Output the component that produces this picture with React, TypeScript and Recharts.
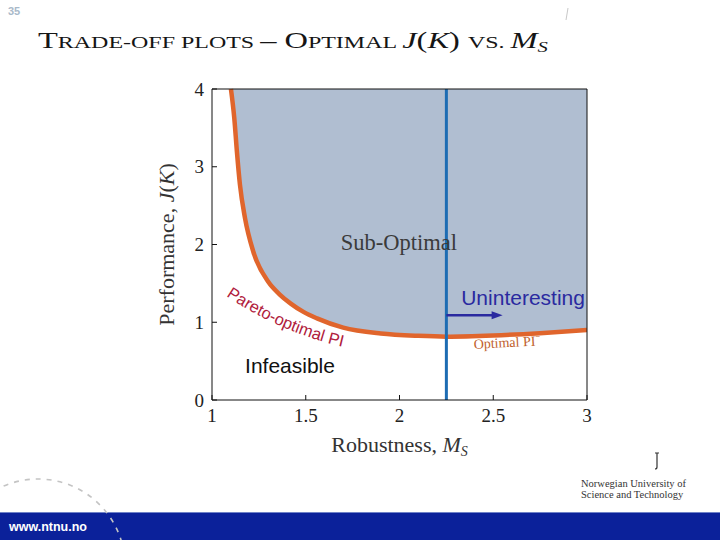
import { ComposedChart, Area, Line, XAxis, YAxis, ReferenceLine, ReferenceDot, Label } from "recharts"

// Pareto front: robustness M_S vs optimal J(K)
const msValues = [1.101, 1.119, 1.133, 1.149, 1.176, 1.22, 1.3, 1.36, 1.42, 1.49, 1.56, 1.7, 1.9, 2.1, 2.25, 2.5, 2.75, 3.0]
const jValues = [4.0, 3.62, 3.19, 2.77, 2.34, 1.91, 1.52, 1.36, 1.24, 1.13, 1.05, 0.93, 0.855, 0.825, 0.815, 0.83, 0.86, 0.9]

const xTicks = [1, 1.5, 2, 2.5, 3]
const yTicks = [0, 1, 2, 3, 4]
const J_MAX = 4
const MS_LIMIT = 2.25

// arrow pointing into the "uninteresting" region
const arrowJ = 1.09
const arrowEndMs = 2.55

// curved "Pareto-optimal PI" label runs between these two points
const paretoLabel = "Pareto-optimal PI"
const paretoFrom = { x: 1.075, y: 1.338 }
const paretoTo = { x: 1.74, y: 0.66 }

// annotation anchors in data units
const noteKeys = ["sub", "unint", "infeas", "optpi"]
const noteText = ["Sub-Optimal", "Uninteresting", "Infeasible", "Optimal PI"]
const noteMs = [1.997, 2.659, 1.416, 2.575]
const noteJ = [1.929, 1.222, 0.347, 0.68]

const SERIF = "'Liberation Serif', 'DejaVu Serif', serif"
const SANS = "'Liberation Sans', Arial, sans-serif"

const noteStyle: Record<string, any> = {
  sub: { fontFamily: SERIF, fontSize: 22.5, fill: "#3a3a3a" },
  unint: { fontFamily: SANS, fontSize: 21, fill: "#2a2aa0" },
  infeas: { fontFamily: SANS, fontSize: 21, fill: "#111" },
  optpi: { fontFamily: SERIF, fontSize: 14, fill: "#c0602c", rotate: -3 },
}

const rows = msValues.map((ms, i) => ({ ms, j: jValues[i], band: [jValues[i], J_MAX] }))

const tickStyle = { fontFamily: SERIF, fontSize: 19, fill: "#222" }

const Arrow = (p: any) => {
  const { x1, y1, x2, y2 } = p
  return (
    <g>
      <line x1={x1} y1={y1} x2={x2 - 8} y2={y2} stroke="#2a2aa0" strokeWidth={2.5} />
      <polygon points={`${x2},${y2} ${x2 - 11},${y2 - 4} ${x2 - 11},${y2 + 4}`} fill="#2a2aa0" />
    </g>
  )
}

const ParetoText = (p: any) => {
  const { x1, y1, x2, y2 } = p
  const dx = x2 - x1
  const dy = y2 - y1
  const len = Math.hypot(dx, dy) || 1
  const sag = 13
  const cx = (x1 + x2) / 2 - (dy / len) * sag
  const cy = (y1 + y2) / 2 + (dx / len) * sag
  return (
    <g>
      <path id="pareto-path" d={`M${x1},${y1} Q${cx},${cy} ${x2},${y2}`} fill="none" stroke="none" />
      <text fontFamily={SANS} fontSize={16.5} fill="#b0203c">
        <textPath href="#pareto-path">{paretoLabel}</textPath>
      </text>
    </g>
  )
}

const noteShape = (key: string, text: string) => (p: any) => {
  const s = noteStyle[key]
  const { cx, cy } = p
  return (
    <text
      x={cx}
      y={cy}
      textAnchor="middle"
      fontFamily={s.fontFamily}
      fontSize={s.fontSize}
      fill={s.fill}
      transform={s.rotate ? `rotate(${s.rotate} ${cx} ${cy})` : undefined}
    >
      {text}
      {key === "optpi" && (
        <tspan fontSize={9} dy={-6}>
          −
        </tspan>
      )}
    </text>
  )
}

function Slide() {
  const big = 23.7
  const small = 17.5
  return (
    <svg width={720} height={540} style={{ position: "absolute", left: 0, top: 0 }}>
      <text x={8} y={15} fontFamily={SANS} fontWeight="bold" fontSize={11} fill="#a9b9c9">
        35
      </text>
      <line x1={568} y1={8} x2={566} y2={20} stroke="#c8c8c8" strokeWidth={1} />
      {/* small-caps title, stretched to the width of the original wide face */}
      <text transform="translate(38 48) scale(1.37 1)" fontFamily={SERIF} fill="#151515">
        <tspan fontSize={big}>T</tspan>
        <tspan fontSize={small}>RADE-OFF PLOTS </tspan>
        <tspan fontSize={big}>– O</tspan>
        <tspan fontSize={small}>PTIMAL </tspan>
        <tspan fontSize={big} fontStyle="italic">J</tspan>
        <tspan fontSize={big}>(</tspan>
        <tspan fontSize={big} fontStyle="italic">K</tspan>
        <tspan fontSize={big}>) </tspan>
        <tspan fontSize={small}>VS. </tspan>
        <tspan fontSize={big} fontStyle="italic">M</tspan>
        <tspan fontSize={15} fontStyle="italic" dy={4}>
          S
        </tspan>
      </text>

      {/* NTNU logo block */}
      <path d="M655 453 h4 M657 453 v14 q0 2 -2 2" stroke="#333" strokeWidth={1.2} fill="none" />
      <text x={581} y={487} fontFamily={SERIF} fontSize={10.5} fill="#333">
        Norwegian University of
      </text>
      <text x={581} y={497.5} fontFamily={SERIF} fontSize={10.5} fill="#333">
        Science and Technology
      </text>

      <rect x={0} y={513} width={720} height={27} fill="#0b219a" />
      <line x1={0} y1={512.5} x2={720} y2={512.5} stroke="#6f82c8" strokeWidth={1} />
      <text x={9} y={531} fontFamily={SANS} fontWeight="bold" fontSize={12.5} fill="#fff">
        www.ntnu.no
      </text>
      <circle cx={38} cy={566} r={87} fill="none" stroke="#c4c4c4" strokeWidth={1.6} strokeDasharray="5 6" />
    </svg>
  )
}

export default function App() {
  return (
    <div style={{ position: "absolute", left: 0, top: 0, width: 720, height: 540, background: "#fff", overflow: "hidden" }}>
      <Slide />
      <div style={{ position: "absolute", left: 0, top: 0 }}>
        <ComposedChart width={720} height={540} data={rows} margin={{ top: 88, right: 132, bottom: 110, left: 152 }}>
          <XAxis
            dataKey="ms"
            type="number"
            domain={[1, 3]}
            ticks={xTicks}
            height={30}
            tickSize={-5}
            tickMargin={14}
            tick={tickStyle}
            stroke="#111"
            allowDataOverflow
          >
            <Label
              content={(p: any) => {
                const vb = p.viewBox
                return (
                  <text x={vb.x + vb.width / 2} y={452} textAnchor="middle" fontFamily={SERIF} fontSize={22} fill="#333">
                    Robustness, <tspan fontStyle="italic">M</tspan>
                    <tspan fontStyle="italic" fontSize={14} dy={4}>
                      S
                    </tspan>
                  </text>
                )
              }}
            />
          </XAxis>
          <XAxis
            xAxisId="top"
            orientation="top"
            dataKey="ms"
            type="number"
            domain={[1, 3]}
            ticks={xTicks}
            height={1}
            tickSize={-5}
            tick={false}
            stroke="#111"
            allowDataOverflow
          />
          <YAxis
            type="number"
            domain={[0, J_MAX]}
            ticks={yTicks}
            width={60}
            tickSize={-5}
            tickMargin={13}
            tick={tickStyle}
            stroke="#111"
          >
            <Label
              content={(p: any) => {
                const vb = p.viewBox
                const cy = vb.y + vb.height / 2
                return (
                  <text
                    x={174}
                    y={cy}
                    transform={`rotate(-90 174 ${cy})`}
                    textAnchor="middle"
                    fontFamily={SERIF}
                    fontSize={22}
                    fill="#333"
                  >
                    Performance, <tspan fontStyle="italic">J</tspan>(<tspan fontStyle="italic">K</tspan>)
                  </text>
                )
              }}
            />
          </YAxis>
          <YAxis
            yAxisId="right"
            orientation="right"
            type="number"
            domain={[0, J_MAX]}
            ticks={yTicks}
            width={1}
            tickSize={-5}
            tick={false}
            stroke="#111"
          />
          <Area dataKey="band" type="monotone" fill="#b0bed1" fillOpacity={1} stroke="none" isAnimationActive={false} />
          <Line dataKey="j" type="monotone" stroke="#e0652c" strokeWidth={4.5} dot={false} isAnimationActive={false} />
          <ReferenceLine x={MS_LIMIT} stroke="#1d6cb3" strokeWidth={3} />
          <ReferenceLine
            segment={[
              { x: MS_LIMIT, y: arrowJ },
              { x: arrowEndMs, y: arrowJ },
            ]}
            shape={Arrow}
          />
          <ReferenceLine segment={[paretoFrom, paretoTo]} shape={ParetoText} />
          {noteKeys.map((k, i) => (
            <ReferenceDot key={k} x={noteMs[i]} y={noteJ[i]} r={0} shape={noteShape(k, noteText[i])} />
          ))}
        </ComposedChart>
      </div>
    </div>
  )
}
